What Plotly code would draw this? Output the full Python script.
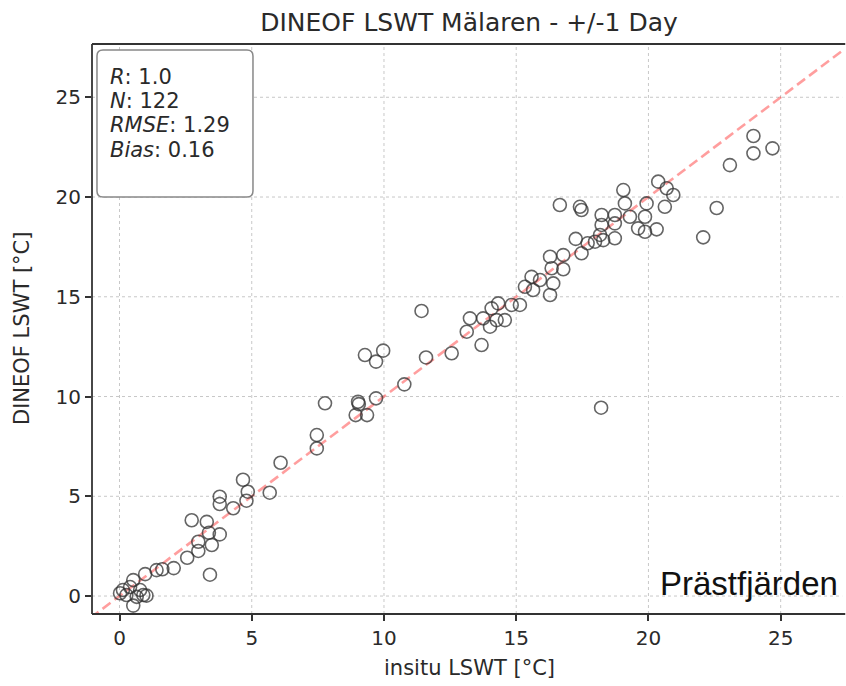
import plotly.graph_objects as go

# In-situ vs DINEOF lake surface water temperature (°C)
insitu = [
    0.02, 0.13, 0.26, 0.40, 0.52, 0.52, 0.65, 0.78, 0.90, 0.97, 1.02, 1.40, 1.62, 2.05, 2.56,
    2.73, 2.98, 2.98, 3.30, 3.38, 3.42, 3.49, 3.79, 3.79, 3.79, 4.30, 4.67, 4.80, 4.85, 5.68,
    6.09, 7.46, 7.46, 7.77, 8.93, 9.02, 9.05, 9.36, 9.70, 9.28, 9.70, 9.97, 10.77, 11.42, 11.59,
    12.56, 13.13, 13.25, 13.69, 13.75, 14.01, 14.07, 14.26, 14.32, 14.57, 14.83, 15.14, 15.33,
    15.64, 15.58, 15.90, 16.28, 16.40, 16.34, 16.78, 16.28, 16.78, 17.47, 17.25, 17.70, 17.98,
    16.65, 17.41, 17.47, 18.17, 18.29, 18.73, 18.23, 18.73, 18.23, 18.73, 19.05, 19.11, 19.30,
    19.61, 19.87, 19.87, 19.93, 20.31, 20.37, 20.69, 20.94, 20.62, 18.21, 22.07, 22.58, 23.08,
    23.97, 23.97, 24.69,
]
dineof = [
    0.14, 0.30, 0.05, 0.45, 0.80, -0.48, -0.04, 0.30, 0.05, 1.10, 0.02, 1.30, 1.34, 1.40, 1.92,
    3.80, 2.72, 2.26, 3.72, 3.17, 1.07, 2.56, 3.09, 4.98, 4.61, 4.40, 5.83, 4.78, 5.23, 5.18,
    6.68, 8.07, 7.40, 9.66, 9.07, 9.74, 9.62, 9.07, 9.91, 12.08, 11.75, 12.30, 10.61, 14.29, 11.96,
    12.17, 13.25, 13.92, 12.58, 13.92, 13.50, 14.42, 13.83, 14.67, 13.83, 14.59, 14.59, 15.50,
    15.34, 16.00, 15.84, 15.09, 15.67, 16.43, 16.38, 17.01, 17.09, 17.18, 17.90, 17.68, 17.76,
    19.60, 19.51, 19.35, 18.10, 17.84, 17.93, 18.60, 18.68, 19.10, 19.10, 20.35, 19.68, 19.01,
    18.43, 18.26, 19.01, 19.68, 18.38, 20.77, 20.44, 20.10, 19.51, 9.44, 17.98, 19.45, 21.60,
    23.06, 22.19, 22.44,
]

title_text = "DINEOF LSWT Mälaren - +/-1 Day"
x_label = "insitu LSWT [°C]"
y_label = "DINEOF LSWT [°C]"
stats_labels = ["R", "N", "RMSE", "Bias"]
stats_values = ["1.0", "122", "1.29", "0.16"]
station = "Prästfjärden"
tick_vals = [0, 5, 10, 15, 20, 25]

x_range = [-1.04, 27.47]
y_range = [-0.90, 27.67]

fig = go.Figure()

# dotted grid drawn as shapes
grid = dict(color="#c8c8c8", width=1, dash="dot")
for t in tick_vals:
    fig.add_shape(type="line", xref="x", yref="paper", x0=t, x1=t, y0=0, y1=1,
                  line=grid, layer="below")
    fig.add_shape(type="line", xref="paper", yref="y", x0=0, x1=0.995, y0=t, y1=t,
                  line=grid, layer="below")

# 1:1 line
fig.add_trace(go.Scatter(
    x=[-2, 30], y=[-2, 30], mode="lines",
    line=dict(color="rgba(255,0,0,0.38)", width=2.6, dash="10px,5px"),
    hoverinfo="skip", showlegend=False,
))

fig.add_trace(go.Scatter(
    x=insitu, y=dineof, mode="markers",
    marker=dict(symbol="circle-open", size=13,
                color="rgba(50,50,50,0.75)", line=dict(width=1.6)),
    showlegend=False,
))

axis_common = dict(
    tickvals=tick_vals,
    showgrid=False, zeroline=False,
    showline=False, mirror=False,
    ticks="outside", ticklen=6, tickwidth=1.5, tickcolor="#333",
    tickfont=dict(family="DejaVu Sans", size=20, color="#2a2a2a"),
)

fig.update_xaxes(range=x_range, **axis_common)
fig.update_yaxes(range=y_range, **axis_common)

# cover the extreme right edge (the reference is cropped there)
fig.add_shape(type="rect", xref="paper", yref="paper", x0=0.996, x1=1.01, y0=-0.02, y1=1.02,
              fillcolor="white", line=dict(width=0), layer="above")

# spines: left, bottom, top (right spine lies outside the cropped picture)
spine = dict(color="#333", width=1.8)
fig.add_shape(type="line", xref="paper", yref="paper", x0=0, x1=0.999, y0=1, y1=1,
              line=spine, layer="above")
fig.add_shape(type="line", xref="paper", yref="paper", x0=0, x1=0.999, y0=0, y1=0,
              line=spine, layer="above")
fig.add_shape(type="line", xref="paper", yref="paper", x0=0, x1=0, y0=0, y1=1,
              line=spine, layer="above")

# rounded stats box (paper coords)
x0, x1 = 0.0066, 0.2135
y0, y1 = 0.7316, 0.9895
rx, ry = 0.008, 0.0105
path = (f"M {x0+rx},{y1} L {x1-rx},{y1} Q {x1},{y1} {x1},{y1-ry} "
        f"L {x1},{y0+ry} Q {x1},{y0} {x1-rx},{y0} L {x0+rx},{y0} "
        f"Q {x0},{y0} {x0},{y0+ry} L {x0},{y1-ry} Q {x0},{y1} {x0+rx},{y1} Z")
fig.add_shape(type="path", path=path, xref="paper", yref="paper",
              fillcolor="white", line=dict(color="#888", width=1.5), layer="above")

line_y = [0.9421, 0.9000, 0.8579, 0.8140]
annotations = []
for lab, val, yy in zip(stats_labels, stats_values, line_y):
    annotations.append(dict(
        text=f"<i>{lab}</i>: {val}", x=0.0212, y=yy, xref="paper", yref="paper",
        xanchor="left", yanchor="middle", showarrow=False,
        font=dict(family="DejaVu Sans", size=21, color="#2a2a2a"),
    ))

annotations.append(dict(
    text=station, x=0.992, y=0.054, xref="paper", yref="paper",
    xanchor="right", yanchor="middle", showarrow=False,
    font=dict(family="Liberation Sans", size=33, color="#111"),
))
annotations.append(dict(
    text=x_label, x=0.5, y=-0.0947, xref="paper", yref="paper",
    xanchor="center", yanchor="middle", showarrow=False,
    font=dict(family="DejaVu Sans", size=21, color="#2a2a2a"),
))
annotations.append(dict(
    text=y_label, x=-0.0928, y=0.5, xref="paper", yref="paper",
    xanchor="center", yanchor="middle", showarrow=False, textangle=-90,
    font=dict(family="DejaVu Sans", size=21, color="#2a2a2a"),
))

fig.update_layout(
    width=846, height=686,
    margin=dict(l=92, r=0, t=44, b=72),
    paper_bgcolor="white", plot_bgcolor="white",
    title=dict(text=title_text, x=0.5, xref="paper", y=1 - 22 / 686,
               yref="container", xanchor="center", yanchor="middle",
               font=dict(family="DejaVu Sans", size=25, color="#2a2a2a")),
    annotations=annotations,
    showlegend=False,
)

fig.write_html("out.html")
